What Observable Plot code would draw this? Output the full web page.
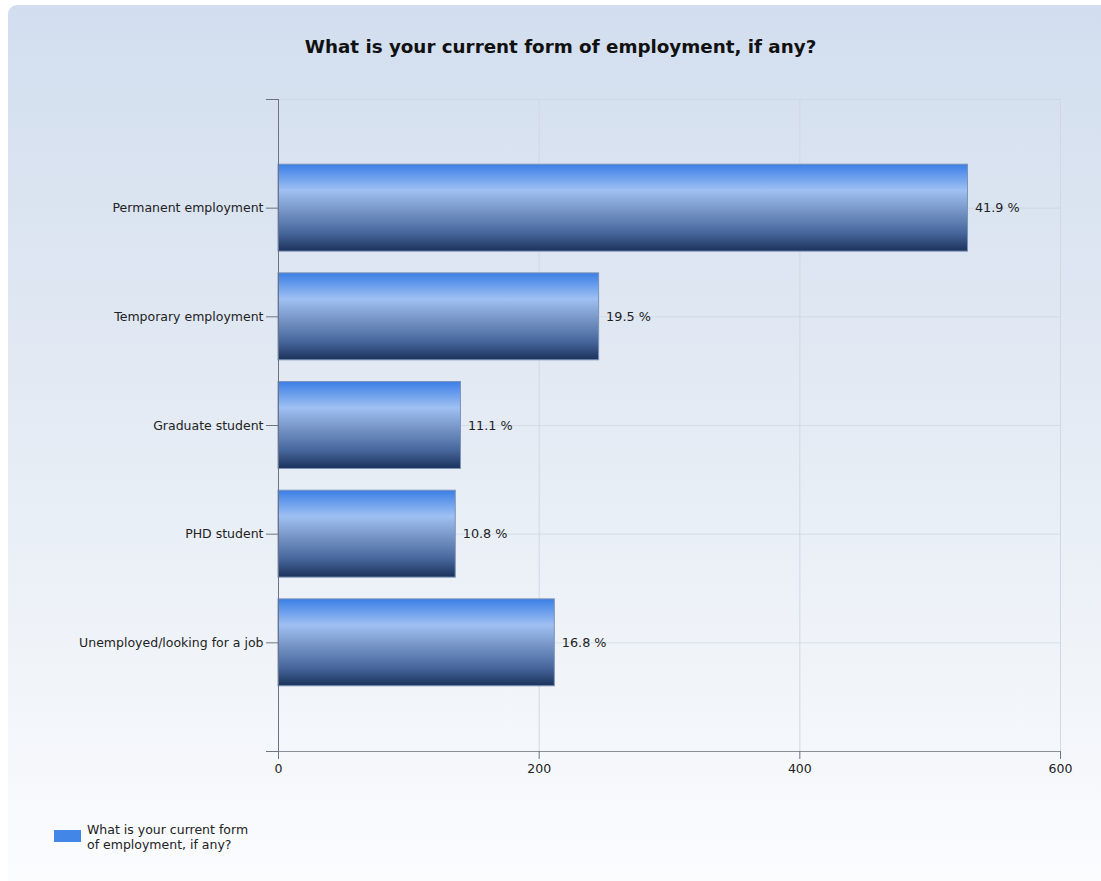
<!DOCTYPE html>
<html>
<head>
<meta charset="utf-8">
<script src="https://cdn.jsdelivr.net/npm/d3@7"></script>
<script src="https://cdn.jsdelivr.net/npm/@observablehq/plot@0.6"></script>
<style>
  html, body { margin: 0; padding: 0; background: #ffffff; width: 1101px; height: 881px; overflow: hidden; font-family: "DejaVu Sans", Verdana, sans-serif; }
  #panel { position: absolute; left: 8px; top: 5px; width: 1093px; height: 876px; border-top-left-radius: 9px;
           background: linear-gradient(to bottom, #d2deef 0%, #dfe7f2 35%, #f0f4f9 75%, #fbfcfe 100%); }
  #title { position: absolute; left: 10px; top: 36px; width: 1101px; text-align: center; font-weight: bold; font-size: 18.3px; color: #111; }
  #chart { position: absolute; left: 0; top: 70px; }
  #legend { position: absolute; left: 54px; top: 822px; display: flex; align-items: flex-start; font-size: 12.5px; color: #222; line-height: 15px; }
  #legend .sw { width: 27px; height: 12px; background: #4286e8; margin-top: 8px; margin-right: 6px; }
</style>
</head>
<body>
<div id="panel"></div>
<div id="title">What is your current form of employment, if any?</div>
<div id="chart"></div>
<div id="legend"><div class="sw"></div><div>What is your current form<br>of employment, if any?</div></div>
<script>
// Data
const categories = ["Permanent employment", "Temporary employment", "Graduate student", "PHD student", "Unemployed/looking for a job"];
const counts = [529, 246, 140, 136, 212];
const percentLabels = ["41.9 %", "19.5 %", "11.1 %", "10.8 %", "16.8 %"];
const xTicks = [0, 200, 400, 600];
const seriesName = "What is your current form of employment, if any?";

const rows = categories.map((c, i) => ({pos: i + 1, category: c, count: counts[i], label: percentLabels[i]}));
const yTicks = d3.range(0, categories.length + 2);

const defs = () => {
  const ns = "http://www.w3.org/2000/svg";
  const d = document.createElementNS(ns, "defs");
  const g = document.createElementNS(ns, "linearGradient");
  g.setAttribute("id", "barGrad");
  g.setAttribute("x1", "0"); g.setAttribute("y1", "0");
  g.setAttribute("x2", "0"); g.setAttribute("y2", "1");
  [["0%", "#3d7ee6"], ["8%", "#5590ea"], ["30%", "#9fc0f2"], ["55%", "#7493c4"], ["80%", "#45649a"], ["100%", "#1b325a"]].forEach(([o, c]) => {
    const s = document.createElementNS(ns, "stop");
    s.setAttribute("offset", o); s.setAttribute("stop-color", c);
    g.appendChild(s);
  });
  d.appendChild(g);
  return d;
};

const chart = Plot.plot({
  width: 1101,
  height: 721,
  marginLeft: 278,
  marginRight: 41,
  marginTop: 29,
  marginBottom: 40,
  style: {background: "transparent", fontFamily: "DejaVu Sans, Verdana, sans-serif", fontSize: "12.5px", color: "#222"},
  x: {domain: [0, 600]},
  y: {domain: [0, categories.length + 1], reverse: true},
  marks: [
    defs,
    Plot.gridX(xTicks, {stroke: "#d2d8e0", strokeOpacity: 1}),
    Plot.gridY(yTicks.slice(0, -1), {stroke: "#c4cedb", strokeOpacity: 0.5}),
    Plot.rectX(rows, {x1: 0, x2: "count", y1: d => d.pos - 0.4, y2: d => d.pos + 0.4, fill: "url(#barGrad)", stroke: "#7d93b8", strokeWidth: 1}),
    Plot.text(rows, {x: "count", y: "pos", text: "label", textAnchor: "start", dx: 7, fontSize: 12.8, fill: "#222"}),
    Plot.ruleX([0], {stroke: "#6d7380", strokeWidth: 1}),
    Plot.ruleY([categories.length + 1], {stroke: "#8a8f98", strokeWidth: 1.2}),
    Plot.axisY({ticks: yTicks, tickSize: 12, tickPadding: 3, stroke: "#6d7380", fontSize: 12.5,
      tickFormat: i => categories[i - 1] ?? "", label: null}),
    Plot.axisX({ticks: xTicks, tickSize: 8, tickPadding: 5, stroke: "#6d7380", fontSize: 12.5, label: null})
  ]
});
document.getElementById("chart").appendChild(chart);
</script>
</body>
</html>
